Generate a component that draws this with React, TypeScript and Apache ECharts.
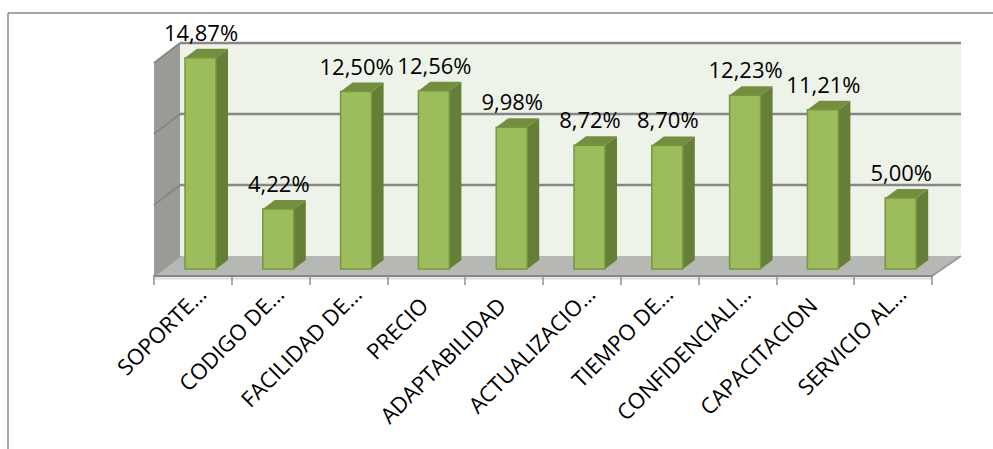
import React, { useEffect, useRef } from "react";
import * as echarts from "echarts";

const categories = [
  "SOPORTE…",
  "CODIGO DE…",
  "FACILIDAD DE…",
  "PRECIO",
  "ADAPTABILIDAD",
  "ACTUALIZACIO…",
  "TIEMPO DE…",
  "CONFIDENCIALI…",
  "CAPACITACION",
  "SERVICIO AL…",
];
const shares = [14.87, 4.22, 12.5, 12.56, 9.98, 8.72, 8.7, 12.23, 11.21, 5.0];
const gridValues = [0, 5, 10, 15];

const GREY = "#868686";
const FONT = "'Open Sans', sans-serif";

// Projection of the pseudo-3D box: the bars stand mid-way across the floor.
const FRONT_DROP = 7;
const BACK_RISE = 13;
const WALL_DX = 26;
const BAR_SHIFT = 7.6;
const BAR_WIDTH = 31;
const BAR_DX = 12;
const BAR_DY = 9;

const formatShare = (v: number) => v.toFixed(2).replace(".", ",") + "%";

export default function App() {
  const ref = useRef<HTMLDivElement>(null);

  useEffect(() => {
    const chart = echarts.init(ref.current!, undefined, { renderer: "svg" });

    const renderPanels = (params: any, api: any) => {
      const { x: x0, width } = params.coordSys;
      const [, y0] = api.coord([0, 0]);
      const [, yTop] = api.coord([0, 15]);
      const x1 = x0 + width;
      const front = y0 + FRONT_DROP;
      const back = y0 - BACK_RISE;
      const backTop = yTop - BACK_RISE;
      return {
        type: "group",
        children: [
          {
            type: "rect",
            shape: { x: x0 + WALL_DX, y: backTop, width: 781, height: back - backTop },
            style: { fill: "#eef3ea" },
          },
          {
            type: "polygon",
            shape: {
              points: [
                [x0, yTop + FRONT_DROP],
                [x0 + WALL_DX, backTop],
                [x0 + WALL_DX, back],
                [x0, front],
              ],
            },
            style: { fill: "#9a9b97" },
          },
          {
            type: "polygon",
            shape: {
              points: [
                [x0, front],
                [x1, front],
                [x1 + 29, back],
                [x0 + WALL_DX, back],
              ],
            },
            style: { fill: "#b6b8b3" },
          },
          {
            type: "line",
            shape: { x1: x1, y1: front, x2: x1 + 29, y2: back },
            style: { stroke: "#9a9b97", lineWidth: 2 },
          },
          {
            type: "line",
            shape: { x1: x0, y1: front + 2.5, x2: x1, y2: front + 2.5 },
            style: { stroke: "#dcdcdc", lineWidth: 2 },
          },
        ],
      };
    };

    const renderGridLine = (params: any, api: any) => {
      const x0 = params.coordSys.x;
      const [, y] = api.coord([0, api.value(0)]);
      const xBack = x0 + WALL_DX;
      const children: any[] = [
        {
          type: "line",
          shape: { x1: x0, y1: y + FRONT_DROP, x2: xBack, y2: y - BACK_RISE },
          style: { stroke: api.value(0) > 0 ? GREY : "#9a9b97", lineWidth: 2 },
        },
      ];
      if (api.value(0) > 0) {
        children.push({
          type: "line",
          shape: { x1: xBack, y1: y - BACK_RISE, x2: xBack + 781, y2: y - BACK_RISE },
          style: { stroke: GREY, lineWidth: 2.5 },
        });
      }
      return { type: "group", children };
    };

    const renderBar = (_: any, api: any) => {
      const [cx, top] = api.coord([api.value(0), api.value(1)]);
      const [, base] = api.coord([api.value(0), 0]);
      const left = cx + BAR_SHIFT - BAR_WIDTH / 2;
      const right = left + BAR_WIDTH;
      return {
        type: "group",
        children: [
          {
            type: "polygon",
            shape: {
              points: [
                [right, top],
                [right + BAR_DX, top - BAR_DY],
                [right + BAR_DX, base - BAR_DY],
                [right, base],
              ],
            },
            style: { fill: "#667f38" },
          },
          {
            type: "polygon",
            shape: {
              points: [
                [left, top],
                [left + BAR_DX, top - BAR_DY],
                [right + BAR_DX, top - BAR_DY],
                [right, top],
              ],
            },
            style: { fill: "#738e3f" },
          },
          {
            type: "rect",
            shape: { x: left, y: top, width: BAR_WIDTH, height: base - top },
            style: { fill: "#9dbc5b", stroke: "#78963f", lineWidth: 1.5 },
          },
          {
            type: "text",
            x: left + BAR_WIDTH / 2 + 0.5,
            y: top - 26,
            style: {
              text: formatShare(api.value(1)),
              font: `22px ${FONT}`,
              fill: "#000",
              align: "center",
              verticalAlign: "middle",
            },
          },
        ],
      };
    };

    chart.setOption({
      animation: false,
      graphic: [
        {
          type: "line",
          shape: { x1: 8, y1: 13, x2: 993, y2: 13 },
          style: { stroke: "#8a8a8a", lineWidth: 1.5 },
        },
        {
          type: "line",
          shape: { x1: 8, y1: 13, x2: 8, y2: 449 },
          style: { stroke: "#8a8a8a", lineWidth: 1.5 },
        },
      ],
      grid: { left: 154, top: 56, width: 778, height: 213 },
      xAxis: {
        type: "category",
        data: categories,
        offset: FRONT_DROP,
        axisLine: { onZero: false, lineStyle: { color: GREY, width: 2 } },
        axisTick: { show: true, length: 9, alignWithLabel: false, lineStyle: { color: "#8e8e8e", width: 1.5 } },
        axisLabel: {
          interval: 0,
          rotate: 45,
          margin: 22,
          fontFamily: FONT,
          fontSize: 22,
          color: "#000",
          // Truncated names run a little further along the slant than complete ones.
          formatter: (v: string) => (v.endsWith("…") ? `{cut|${v}}` : `{full|${v}}`),
          rich: {
            full: { fontFamily: FONT, fontSize: 22, color: "#000", padding: [0, 4, 0, 0] },
            cut: { fontFamily: FONT, fontSize: 22, color: "#000", padding: [0, -12, 0, 0] },
          },
        },
        z: 5,
      },
      yAxis: { type: "value", min: 0, max: 15, interval: 5, show: false },
      series: [
        { type: "custom", coordinateSystem: "cartesian2d", data: [[0, 0]], renderItem: renderPanels, silent: true, z: 1 },
        { type: "custom", coordinateSystem: "cartesian2d", data: gridValues.map((v) => [v]), encode: { y: 0 }, renderItem: renderGridLine, silent: true, z: 2 },
        { type: "custom", coordinateSystem: "cartesian2d", data: shares.map((v, i) => [i, v]), renderItem: renderBar, silent: true, z: 3 },
      ],
    });
    return () => chart.dispose();
  }, []);

  return <div ref={ref} style={{ position: "absolute", left: 0, top: 0, width: 993, height: 449 }} />;
}
